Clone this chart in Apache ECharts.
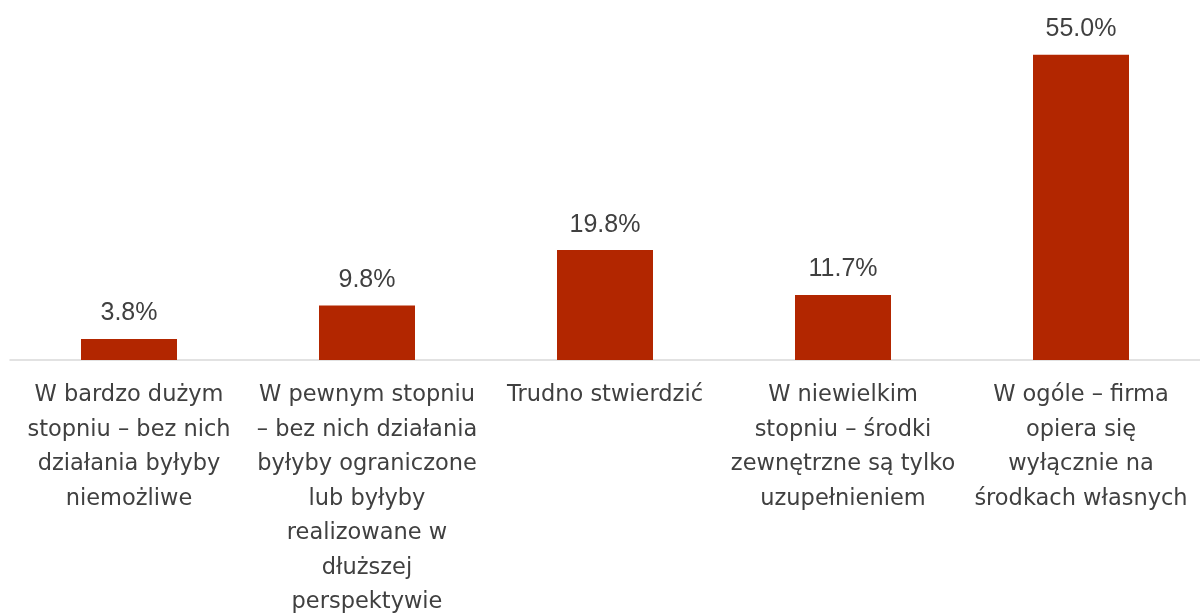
<!DOCTYPE html>
<html>
<head>
<meta charset="utf-8">
<script src="https://cdn.jsdelivr.net/npm/echarts@6/dist/echarts.min.js"></script>
<style>
  html, body { margin: 0; padding: 0; background: #fff; }
  #chart { width: 1200px; height: 614px; }
</style>
</head>
<body>
<div id="chart"></div>
<script>
// kategorie (etykiety osi X)
const categories = [
  'W bardzo dużym\nstopniu – bez nich\ndziałania byłyby\nniemożliwe',
  'W pewnym stopniu\n– bez nich działania\nbyłyby ograniczone\nlub byłyby\nrealizowane w\ndłuższej\nperspektywie',
  'Trudno stwierdzić',
  'W niewielkim\nstopniu – środki\nzewnętrzne są tylko\nuzupełnieniem',
  'W ogóle – firma\nopiera się\nwyłącznie na\nśrodkach własnych'
]
// udział odpowiedzi (%)
const values = [3.8, 9.8, 19.8, 11.7, 55.0]

const chart = echarts.init(document.getElementById('chart'))
const option = {
  animation: false,
  grid: {
    left: 10,
    right: 0,
    top: 27,
    bottom: 254,
    outerBoundsMode: 'none',
    containLabel: false,
  },
  xAxis: {
    type: 'category',
    data: categories,
    axisTick: { show: false },
    axisLine: {
      lineStyle: { color: '#d9d9d9', width: 1.5 },
    },
    axisLabel: {
      interval: 0,
      margin: 18,
      color: '#404040',
      fontFamily: 'DejaVu Sans',
      fontSize: 22.5,
      lineHeight: 34.5,
      align: 'center',
    },
  },
  yAxis: {
    type: 'value',
    min: 0,
    max: 60,
    show: false,
    splitLine: { show: false },
  },
  series: [
    {
      type: 'bar',
      data: values,
      barWidth: 96,
      itemStyle: { color: '#b22600' },
      label: {
        show: true,
        position: 'top',
        distance: 13,
        color: '#404040',
        fontFamily: 'Liberation Sans',
        fontSize: 25,
        formatter: (p) => p.value.toFixed(1) + '%',
      },
    },
  ],
}
chart.setOption(option)
</script>
</body>
</html>
